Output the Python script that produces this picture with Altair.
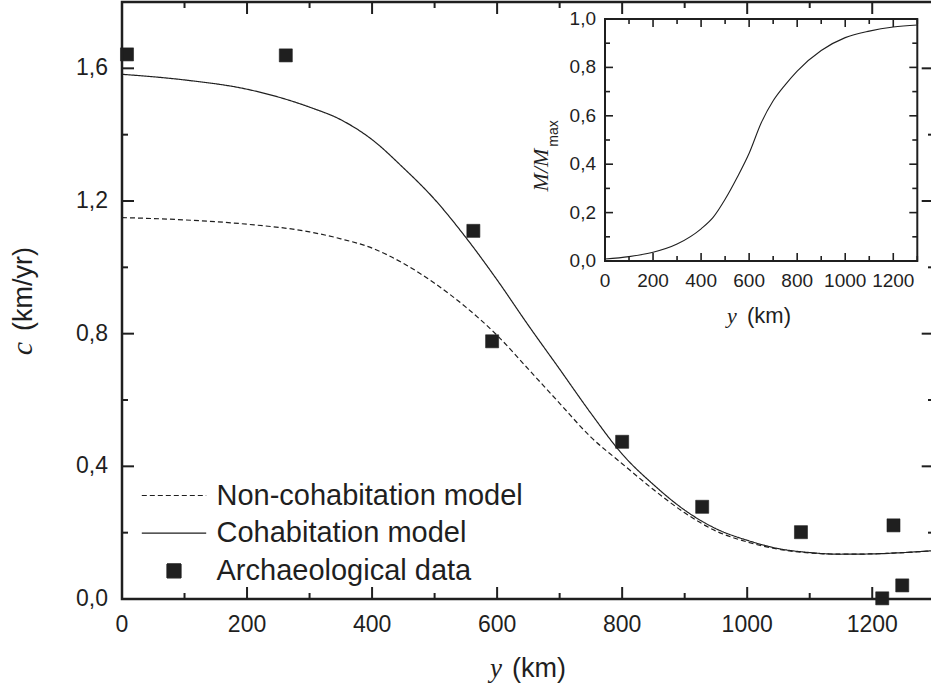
import altair as alt
import pandas as pd

# ---------------- data ----------------
series_names = ["Non-cohabitation model", "Cohabitation model", "Archaeological data"]

model_y = [0, 100, 200, 300, 350, 400, 450, 500, 550, 600, 650, 700, 750,
           800, 850, 900, 950, 1000, 1050, 1100, 1150, 1200, 1250, 1300]
cohab_c = [1.582, 1.565, 1.537, 1.483, 1.445, 1.385, 1.300, 1.205, 1.090, 0.962,
           0.825, 0.693, 0.560, 0.437, 0.345, 0.268, 0.212, 0.177, 0.152, 0.140,
           0.135, 0.136, 0.140, 0.146]
noncohab_c = [1.150, 1.143, 1.130, 1.107, 1.086, 1.058, 1.012, 0.952, 0.880, 0.795,
              0.693, 0.590, 0.488, 0.408, 0.330, 0.260, 0.205, 0.172, 0.150, 0.139,
              0.135, 0.136, 0.140, 0.146]

arch_y = [8, 262, 562, 592, 800, 928, 1086, 1234, 1216, 1248]
arch_c = [1.642, 1.639, 1.110, 0.777, 0.474, 0.278, 0.2015, 0.222, 0.002, 0.041]

inset_y = [0, 100, 200, 300, 400, 450, 500, 550, 600, 650, 700, 750, 800,
           900, 1000, 1100, 1200, 1300]
inset_m = [0.008, 0.018, 0.036, 0.070, 0.133, 0.180, 0.255, 0.345, 0.445, 0.570,
           0.662, 0.728, 0.785, 0.870, 0.923, 0.950, 0.967, 0.975]

main_x_major = [0, 200, 400, 600, 800, 1000, 1200]
main_x_minor = [100, 300, 500, 700, 900, 1100]
main_y_major = [0.0, 0.4, 0.8, 1.2, 1.6]
main_y_minor = [0.2, 0.6, 1.0, 1.4]
inset_x_major = [0, 200, 400, 600, 800, 1000, 1200]
inset_x_minor = [100, 300, 500, 700, 900, 1100, 1300]
inset_y_major = [0.0, 0.2, 0.4, 0.6, 0.8, 1.0]
inset_y_minor = [0.1, 0.3, 0.5, 0.7, 0.9]

title_italic = ["y", "c", "M/M"]
title_plain = ["(km)", "(km/yr)", "max"]

# ---------------- layout ----------------
SANS = "Liberation Sans"
SERIF = "Liberation Serif"
INK = "#1f1f1f"
W, H = 809, 597
X_MAX, Y_MAX = 1294, 1.8
IX0, IX1, IY0, IY1 = 483, 795.3, 259, 17
IXMAX, IYMAX = 1300, 1.0
LINE_PATH = "M-4.6,0H4.6"

# pixels per data unit (to express tick lengths in data units)
PX_X = W / X_MAX
PX_Y = H / Y_MAX
IPX_X = (IX1 - IX0) / IXMAX
IPX_Y = (IY0 - IY1) / IYMAX

xs = alt.Scale(domain=[0, X_MAX], nice=False, zero=False)
ys = alt.Scale(domain=[0, Y_MAX], nice=False, zero=False)
ixs = alt.Scale(domain=[0, IXMAX], range=[IX0, IX1], nice=False, zero=False)
iys = alt.Scale(domain=[0, IYMAX], range=[IY0, IY1], nice=False, zero=False)

MAIN = (xs, ys)
INSET = (ixs, iys)

axis_stub = alt.Axis(ticks=False, grid=False, domain=False, labels=False, title=None)

legend = alt.Legend(title=None, orient="none", legendX=37.5, legendY=479,
                    labelFont=SANS, labelFontSize=29, labelColor=INK, labelLimit=700,
                    labelOffset=28, symbolSize=196, symbolStrokeWidth=1.2,
                    symbolStrokeColor=INK, symbolFillColor=INK, symbolOpacity=1,
                    rowPadding=7.7, padding=0, symbolOffset=0)

stroke_scale = alt.Scale(domain=series_names, range=[INK, INK, INK])


def comma(v):
    return f"{v:.1f}".replace(".", ",")


def tick_lines(values, panel, edge, length, vertical, w=2.0):
    """Short tick segments drawn as 2-point lines at each tick value."""
    xscale, yscale = panel
    rows = []
    for i, v in enumerate(values):
        for k, e in enumerate([edge, edge + length]):
            rows.append({"id": i, "k": k, "p": v, "q": e})
    df = pd.DataFrame(rows)
    if vertical:
        enc = dict(x=alt.X("p:Q", scale=xscale, axis=None),
                   y=alt.Y("q:Q", scale=yscale, axis=None))
    else:
        enc = dict(y=alt.Y("p:Q", scale=yscale, axis=None),
                   x=alt.X("q:Q", scale=xscale, axis=None))
    return alt.Chart(df).mark_line(color=INK, strokeWidth=w, strokeCap="butt").encode(
        detail="id:N", order="k:Q", **enc)


def polyline(xvals, yvals, panel, w):
    xscale, yscale = panel
    df = pd.DataFrame({"k": list(range(len(xvals))), "px": xvals, "py": yvals})
    return alt.Chart(df).mark_line(color=INK, strokeWidth=w, strokeCap="square").encode(
        x=alt.X("px:Q", scale=xscale, axis=None),
        y=alt.Y("py:Q", scale=yscale, axis=None),
        order="k:Q")


def x_labels(values, labels, panel, ypix, size):
    xscale, _ = panel
    df = pd.DataFrame({"p": values, "lab": labels})
    return alt.Chart(df).mark_text(font=SANS, fontSize=size, color=INK, align="center",
                                   baseline="top").encode(
        x=alt.X("p:Q", scale=xscale, axis=None), y=alt.value(ypix), text="lab:N")


def y_labels(values, labels, panel, xpix, size):
    _, yscale = panel
    df = pd.DataFrame({"p": values, "lab": labels})
    return alt.Chart(df).mark_text(font=SANS, fontSize=size, color=INK, align="right",
                                   baseline="middle").encode(
        y=alt.Y("p:Q", scale=yscale, axis=None), x=alt.value(xpix), text="lab:N")


def text(t, x, y, font, size, style="normal", angle=0, align="left"):
    return alt.Chart(pd.DataFrame({"t": [t]})).mark_text(
        font=font, fontSize=size, fontStyle=style, angle=angle, align=align,
        baseline="alphabetic", color=INK).encode(text="t:N", x=alt.value(x), y=alt.value(y))


n = len(model_y)
lines_df = pd.DataFrame({
    "y": model_y + model_y,
    "c": noncohab_c + cohab_c,
    "series": [series_names[0]] * n + [series_names[1]] * n,
})
lines = alt.Chart(lines_df).mark_line(strokeWidth=1.2, clip=True,
                                      interpolate="monotone").encode(
    x=alt.X("y:Q", scale=xs, axis=axis_stub),
    y=alt.Y("c:Q", scale=ys, axis=axis_stub),
    strokeDash=alt.StrokeDash("series:N", scale=alt.Scale(
        domain=series_names, range=[[5, 3], [1, 0], [1, 0]]), legend=legend),
    stroke=alt.Stroke("series:N", scale=stroke_scale, legend=legend),
)

pts_df = pd.DataFrame({"y": arch_y, "c": arch_c, "series": [series_names[2]] * len(arch_y)})
pts = alt.Chart(pts_df).mark_point(filled=True, size=170, color=INK, opacity=1,
                                   strokeWidth=0.6).encode(
    x=alt.X("y:Q", scale=xs, axis=None),
    y=alt.Y("c:Q", scale=ys, axis=None),
    shape=alt.Shape("series:N", scale=alt.Scale(
        domain=series_names, range=[LINE_PATH, LINE_PATH, "square"]), legend=legend),
    stroke=alt.Stroke("series:N", scale=stroke_scale, legend=legend),
)

inset_line = alt.Chart(pd.DataFrame({"y": inset_y, "m": inset_m})).mark_line(
    color=INK, strokeWidth=1.1, interpolate="monotone").encode(
    x=alt.X("y:Q", scale=ixs, axis=axis_stub),
    y=alt.Y("m:Q", scale=iys, axis=axis_stub),
)

# main panel: all layers share one x and one y scale
main = alt.layer(
    lines,
    pts,
    polyline([X_MAX, 0, 0, X_MAX], [Y_MAX, Y_MAX, 0, 0], MAIN, 2.5),
    tick_lines(main_x_major, MAIN, 0, 12 / PX_Y, True),
    tick_lines(main_x_minor, MAIN, 0, 6 / PX_Y, True),
    tick_lines(main_x_major, MAIN, Y_MAX, -12 / PX_Y, True),
    tick_lines(main_x_minor, MAIN, Y_MAX, -6 / PX_Y, True),
    tick_lines(main_y_major, MAIN, 0, 12 / PX_X, False),
    tick_lines(main_y_minor, MAIN, 0, 6 / PX_X, False),
    tick_lines(main_y_major, MAIN, X_MAX, -9.3 / PX_X, False),
    tick_lines(main_y_minor, MAIN, X_MAX, -3 / PX_X, False),
)

# inset panel: its own shared scales, placed by their pixel ranges
inset = alt.layer(
    inset_line,
    polyline([0, IXMAX, IXMAX, 0, 0], [0, 0, IYMAX, IYMAX, 0], INSET, 2),
    tick_lines(inset_x_major, INSET, 0, 8 / IPX_Y, True, 1.6),
    tick_lines(inset_x_minor, INSET, 0, 5 / IPX_Y, True, 1.6),
    tick_lines(inset_x_major, INSET, IYMAX, -8 / IPX_Y, True, 1.6),
    tick_lines(inset_x_minor, INSET, IYMAX, -5 / IPX_Y, True, 1.6),
    tick_lines(inset_y_major, INSET, 0, 8 / IPX_X, False, 1.6),
    tick_lines(inset_y_minor, INSET, 0, 5 / IPX_X, False, 1.6),
    tick_lines(inset_y_major, INSET, IXMAX, -8 / IPX_X, False, 1.6),
    tick_lines(inset_y_minor, INSET, IXMAX, -5 / IPX_X, False, 1.6),
)

main_x_lab = x_labels(main_x_major, [str(v) for v in main_x_major], MAIN, H + 15, 23)
main_y_lab = y_labels(main_y_major, [comma(v) for v in main_y_major], MAIN, -14, 23)
inset_x_lab = x_labels(inset_x_major, [str(v) for v in inset_x_major], INSET, IY0 + 11, 19)
inset_y_lab = y_labels(inset_y_major, [comma(v) for v in inset_y_major], INSET, IX0 - 9, 19)

titles = alt.layer(
    text(title_italic[0], 368, 675, SERIF, 27, "italic"),
    text(title_plain[0], 390, 675, SANS, 27),
    text(title_italic[1], -90, 346.5, SERIF, 30, "italic", 270, "center"),
    text(title_plain[1], -90.5, 287, SANS, 27, angle=270, align="center"),
    text(title_italic[0], 605, 321, SERIF, 22, "italic"),
    text(title_plain[0], 625, 321, SANS, 22),
    text(title_italic[2], 426, 168, SERIF, 22, "italic", 270, "center"),
    text(title_plain[2], 436, 131.5, SANS, 14, angle=270, align="center"),
)

chart = alt.layer(main, inset, main_x_lab, main_y_lab, inset_x_lab, inset_y_lab,
                  titles).resolve_scale(x="independent", y="independent").properties(
    width=W, height=H, autosize=alt.AutoSizeParams(type="none"),
    padding={"left": 122, "top": 2, "right": 0, "bottom": 92},
    background="white",
).configure_view(stroke=None)

chart.save("out.html", embed_options={"renderer": "svg", "actions": False})
